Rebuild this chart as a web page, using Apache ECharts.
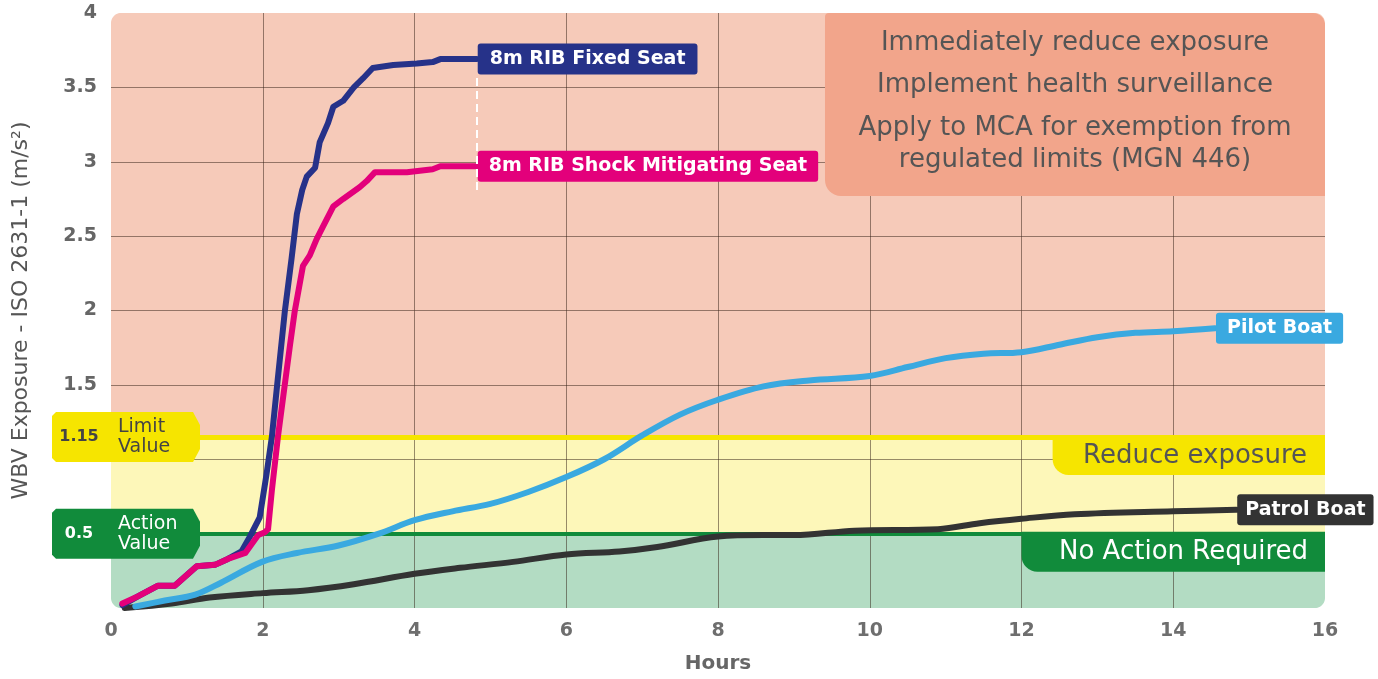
<!DOCTYPE html>
<html>
<head>
<meta charset="utf-8">
<script src="https://cdn.jsdelivr.net/npm/echarts@6/dist/echarts.min.js"></script>
<style>
html,body{margin:0;padding:0;background:#fff;}
#chart{width:1378px;height:679px;}
</style>
</head>
<body>
<div id="chart"></div>
<script>
// ---------- data ----------
const xTicks = [0, 2, 4, 6, 8, 10, 12, 14, 16];
const yTickLabels = ['1.5', '2', '2.5', '3', '3.5', '4'];
const limitValue = 1.15;
const actionValue = 0.5;
const bandEdges = [0, 0.5, 1.15, 4];

const fixedSeat = [[0.15,0.02],[0.36,0.08],[0.62,0.15],[0.84,0.15],[1.13,0.28],[1.37,0.29],[1.54,0.33],[1.72,0.38],[1.83,0.48],[1.96,0.61],[2.05,0.9],[2.12,1.15],[2.19,1.5],[2.29,1.99],[2.38,2.35],[2.45,2.65],[2.52,2.81],[2.58,2.9],[2.69,2.96],[2.75,3.13],[2.86,3.26],[2.93,3.37],[3.06,3.41],[3.2,3.5],[3.32,3.56],[3.45,3.63],[3.72,3.65],[4.03,3.66],[4.24,3.67],[4.34,3.69],[4.82,3.69]];
const shockSeat = [[0.15,0.03],[0.36,0.08],[0.62,0.15],[0.84,0.15],[1.13,0.28],[1.37,0.29],[1.54,0.33],[1.77,0.37],[1.94,0.49],[2.03,0.51],[2.07,0.53],[2.12,0.79],[2.2,1.15],[2.29,1.5],[2.36,1.77],[2.42,1.99],[2.53,2.3],[2.62,2.37],[2.71,2.48],[2.78,2.55],[2.93,2.7],[3.06,2.75],[3.28,2.83],[3.37,2.87],[3.48,2.93],[3.68,2.93],[3.9,2.93],[4.24,2.95],[4.34,2.97],[4.82,2.97]];
const pilotBoat = [[0.32,0.01],[0.71,0.05],[1.11,0.09],[1.45,0.17],[1.99,0.31],[2.45,0.37],[3.0,0.42],[3.53,0.5],[4.0,0.59],[4.5,0.65],[5.0,0.7],[5.5,0.78],[6.0,0.88],[6.5,1.0],[7.0,1.16],[7.5,1.3],[8.0,1.4],[8.6,1.49],[9.2,1.53],[10.0,1.56],[10.5,1.62],[11.0,1.68],[11.5,1.71],[12.0,1.72],[12.5,1.77],[13.0,1.82],[13.5,1.85],[14.0,1.86],[14.55,1.88]];
const patrolBoat = [[0.18,0.0],[0.8,0.03],[1.3,0.07],[2.0,0.1],[2.6,0.12],[3.2,0.16],[4.0,0.23],[4.6,0.27],[5.3,0.31],[6.0,0.36],[6.7,0.38],[7.2,0.41],[8.0,0.48],[8.6,0.49],[9.0,0.49],[9.8,0.52],[10.9,0.53],[11.45,0.57],[12.0,0.6],[12.7,0.63],[14.0,0.65],[14.83,0.66]];
const seatGap = [[4.82, 2.81], [4.82, 3.58]];

const adviceLines = ['Immediately reduce exposure', 'Implement health surveillance', 'Apply to MCA for exemption from', 'regulated limits (MGN 446)'];
const zoneLabels = ['Reduce exposure', 'No Action Required'];
const thresholdNames = [['1.15', 'Limit', 'Value'], ['0.5', 'Action', 'Value']];

// ---------- chart ----------
const FONT = '"DejaVu Sans", sans-serif';
const chart = echarts.init(document.getElementById('chart'), null, {renderer: 'canvas'});

const lineSeries = (name, data, color, smooth, pad, extra) => Object.assign({
  type: 'line', name, data, smooth,
  symbol: 'none', lineStyle: {color, width: 6, cap: 'round', join: 'round'},
  itemStyle: {color},
  endLabel: {
    show: true, formatter: '{a}', color: '#fff', backgroundColor: color,
    fontFamily: FONT, fontSize: 19, fontWeight: 'bold', lineHeight: 19,
    padding: [6, pad, 6, pad], borderRadius: 3, distance: 1
  },
  z: 2
}, extra || {});

chart.setOption({
  animation: false,
  grid: {left: 111, right: 53, top: 13, bottom: 67},
  xAxis: {
    type: 'value', min: 0, max: 16, interval: 2, z: 1.5,
    name: 'Hours', nameLocation: 'middle', nameGap: 46,
    nameTextStyle: {fontFamily: FONT, fontSize: 20, fontWeight: 'bold', color: '#666'},
    axisLine: {show: false}, axisTick: {show: false},
    axisLabel: {margin: 14, fontFamily: FONT, fontSize: 19, fontWeight: 'bold', color: '#6e6e6e',
      formatter: v => xTicks.includes(v) ? String(v) : ''},
    splitLine: {show: true, showMinLine: false, showMaxLine: false, lineStyle: {color: 'rgba(50,30,20,0.5)', width: 1}}
  },
  yAxis: {
    type: 'value', min: 0, max: 4, interval: 0.5, z: 1.5,
    name: 'WBV Exposure - ISO 2631-1 (m/s²)', nameLocation: 'middle', nameGap: 79,
    nameTextStyle: {fontFamily: FONT, fontSize: 22, color: '#555'},
    axisLine: {show: false}, axisTick: {show: false},
    axisLabel: {margin: 14, fontFamily: FONT, fontSize: 19, fontWeight: 'bold', color: '#666',
      formatter: v => yTickLabels.includes(String(v)) ? String(v) : ''},
    splitLine: {show: true, showMinLine: false, showMaxLine: false, lineStyle: {color: 'rgba(50,30,20,0.5)', width: 1}}
  },
  series: [
    {
      type: 'line', name: 'zones', data: [], silent: true,
      markArea: {
        silent: true, z: 1,
        data: [
          [{yAxis: bandEdges[0], itemStyle: {color: '#b3dcc3'}}, {yAxis: bandEdges[1]}],
          [{yAxis: bandEdges[1], itemStyle: {color: '#fdf7b9'}}, {yAxis: bandEdges[2]}],
          [{yAxis: bandEdges[2], itemStyle: {color: '#f6cab9'}}, {yAxis: bandEdges[3]}]
        ]
      },
      markLine: {
        silent: true, symbol: 'none', z: 1.8, label: {show: false},
        data: [
          {yAxis: limitValue, lineStyle: {color: '#f6e500', width: 5, type: 'solid'}},
          {yAxis: actionValue, lineStyle: {color: '#118b3b', width: 4, type: 'solid'}}
        ]
      }
    },
    lineSeries('Patrol Boat', patrolBoat, '#333333', 0.35, 8),
    lineSeries('Pilot Boat', pilotBoat, '#3aa9e0', 0.35, 11),
    lineSeries('8m RIB Fixed Seat', fixedSeat, '#263289', false, 12, {
      markLine: {
        silent: true, symbol: 'none', z: 3, label: {show: false},
        lineStyle: {color: '#ffffff', width: 2, type: [8, 5]},
        data: [[{coord: seatGap[0]}, {coord: seatGap[1]}]]
      }
    }),
    lineSeries('8m RIB Shock Mitigating Seat', shockSeat, '#e3007b', false, 11)
  ]
});

// ---------- annotations positioned through the axes ----------
const px = v => chart.convertToPixel({xAxisIndex: 0}, v);
const py = v => chart.convertToPixel({yAxisIndex: 0}, v);

const gx0 = px(0), gx1 = px(16), gy0 = py(0), gy1 = py(4);
const boxL = px(9.41), boxB = py(2.77);
const boxCx = (boxL + gx1) / 2;
const yLim = py(limitValue), yAct = py(actionValue);
const BIG = `26px ${FONT}`;

function badge(cy, fill, texts, txtColor) {
  const h = 50, l = 52, r = 200, b = 193;
  return [
    {type: 'polygon', z: 20, shape: {points: [[l+4, cy-h/2], [b, cy-h/2], [r, cy-h/2+13], [r, cy+h/2-13], [b, cy+h/2], [l+4, cy+h/2], [l, cy+h/2-4], [l, cy-h/2+4]]}, style: {fill}},
    {type: 'text', z: 21, x: 79, y: cy, style: {text: texts[0], fill: txtColor, font: `bold 16px ${FONT}`, textAlign: 'center', textVerticalAlign: 'middle'}},
    {type: 'text', z: 21, x: 118, y: cy - 10, style: {text: texts[1], fill: txtColor, font: `19px ${FONT}`, textVerticalAlign: 'middle'}},
    {type: 'text', z: 21, x: 118, y: cy + 10, style: {text: texts[2], fill: txtColor, font: `19px ${FONT}`, textVerticalAlign: 'middle'}}
  ];
}

function cornerMask(x, y, sx, sy, r) {
  const cx = x + sx * r, cy = y + sy * r;
  const pts = [[x, y]];
  for (let i = 0; i <= 12; i++) {
    const t = (Math.PI / 2) * i / 12;
    pts.push([cx - sx * r * Math.sin(t), cy - sy * r * Math.cos(t)]);
  }
  return {type: 'polygon', z: 30, shape: {points: pts}, style: {fill: '#ffffff'}};
}

const graphics = [
  {type: 'rect', z: 19, shape: {x: boxL, y: gy1, width: gx1 - boxL, height: boxB - gy1, r: [4, 12, 0, 16]}, style: {fill: '#f2a58b'}},
  {type: 'text', z: 21, x: boxCx, y: gy1 + 30, style: {text: adviceLines[0], fill: '#555', font: BIG, textAlign: 'center', textVerticalAlign: 'middle'}},
  {type: 'text', z: 21, x: boxCx, y: gy1 + 72, style: {text: adviceLines[1], fill: '#555', font: BIG, textAlign: 'center', textVerticalAlign: 'middle'}},
  {type: 'text', z: 21, x: boxCx, y: gy1 + 115, style: {text: adviceLines[2], fill: '#555', font: BIG, textAlign: 'center', textVerticalAlign: 'middle'}},
  {type: 'text', z: 21, x: boxCx, y: gy1 + 147, style: {text: adviceLines[3], fill: '#555', font: BIG, textAlign: 'center', textVerticalAlign: 'middle'}},
  {type: 'rect', z: 19, shape: {x: px(12.41), y: yLim - 2, width: gx1 - px(12.41), height: 40, r: [0, 0, 0, 16]}, style: {fill: '#f6e500'}},
  {type: 'text', z: 21, x: gx1 - 18, y: yLim + 19, style: {text: zoneLabels[0], fill: '#555', font: BIG, textAlign: 'right', textVerticalAlign: 'middle'}},
  {type: 'rect', z: 19, shape: {x: px(12.0), y: yAct - 2, width: gx1 - px(12.0), height: 40, r: [0, 0, 0, 16]}, style: {fill: '#118b3b'}},
  {type: 'text', z: 21, x: gx1 - 17, y: yAct + 19, style: {text: zoneLabels[1], fill: '#fff', font: BIG, textAlign: 'right', textVerticalAlign: 'middle'}},
  cornerMask(gx0, gy1, 1, 1, 10),
  cornerMask(gx0, gy0, 1, -1, 10),
  cornerMask(gx1, gy1, -1, 1, 10),
  cornerMask(gx1, gy0, -1, -1, 10)
]
.concat(badge(yLim, '#f6e500', thresholdNames[0], '#444'))
.concat(badge(yAct, '#118b3b', thresholdNames[1], '#fff'));

chart.setOption({graphic: graphics});
</script>
</body>
</html>
